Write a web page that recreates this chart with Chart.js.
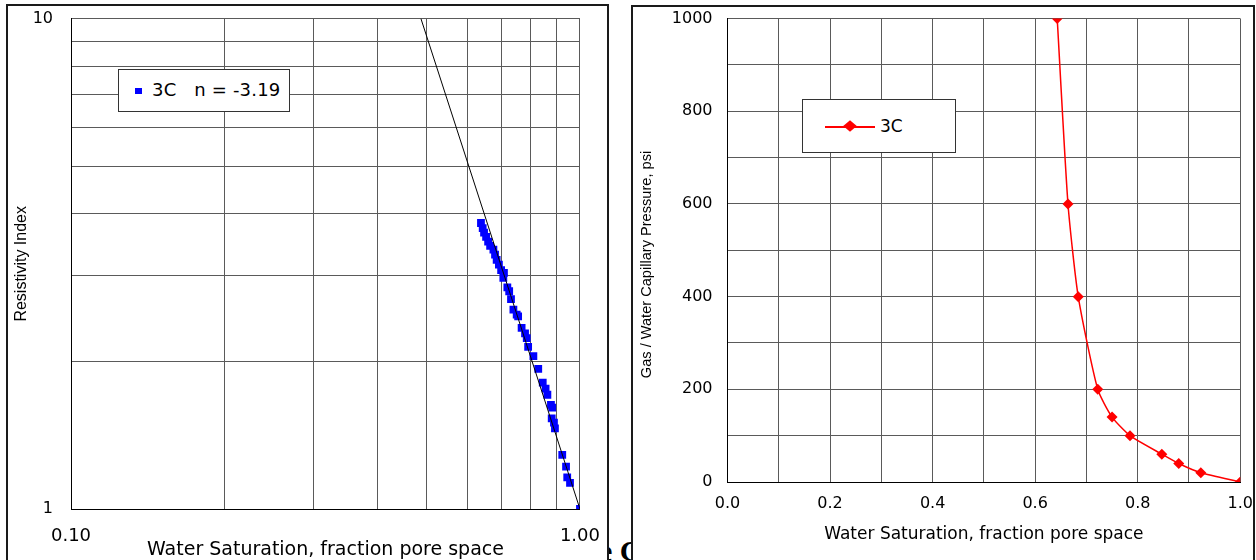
<!DOCTYPE html>
<html>
  <head>
    <title>Resistivity Index and Capillary Pressure, 3C</title>
    <script src="https://cdn.jsdelivr.net/npm/chart.js@4.4.1/dist/chart.umd.min.js"></script>
    <style>
      html { overflow: hidden; }
      body { margin: 0; width: 1256px; height: 560px; overflow: hidden; background: #fff; position: relative; }
      .box { position: absolute; box-sizing: border-box; border: 2px solid #1a1a1a; background: #fff; z-index: 1; }
      .behind { position: absolute; left: 599px; top: 536px; font: bold 30px 'Liberation Serif', serif; line-height: 30px; z-index: 0; white-space: pre; }
      canvas { position: absolute; z-index: 2; }
      .legend { position: absolute; box-sizing: border-box; border: 1px solid #333; background: #fff; z-index: 3; }
      .legend span { position: absolute; font: 17px 'DejaVu Sans', sans-serif; white-space: pre; line-height: 20px; }
    </style>
  </head>

  <body>
    <div class="behind">e C</div>
    <div class="box" style="left:6px;top:4px;width:603px;height:600px"></div>
    <div class="box" style="left:631px;top:5px;width:624px;height:600px"></div>
    <!-- canvases reach past the boxes so that chart.js's label padding lands the plot where the original has it -->
    <canvas id="ri" width="608" height="569" style="left:9px;top:-9px"></canvas>
    <canvas id="pc" width="631" height="566" style="left:634px;top:-6px"></canvas>

    <div class="legend" style="left:118px;top:69px;width:172px;height:43px">
      <div style="position:absolute;left:16px;top:18px;width:7px;height:6px;background:#0000ff"></div>
      <span style="left:33px;top:10px;font-size:18px;letter-spacing:0.2px">3C   n = -3.19</span>
    </div>
    <div class="legend" style="left:802px;top:99px;width:154px;height:54px">
      <div style="position:absolute;left:22px;top:26px;width:50px;height:1.5px;background:#ff0000"></div>
      <div style="position:absolute;left:43px;top:22px;width:8px;height:8px;background:#ff0000;transform:scaleX(1.2) rotate(45deg)"></div>
      <span style="left:77px;top:16px">3C</span>
    </div>

    <script>
      // left: resistivity index vs water saturation (log-log)
      const riSw = [0.639, 0.644, 0.648, 0.654, 0.660, 0.666, 0.676, 0.681, 0.686, 0.693,
                    0.700, 0.709, 0.707, 0.720, 0.726, 0.732, 0.740, 0.751, 0.756, 0.768,
                    0.780, 0.786, 0.791, 0.810, 0.828, 0.845, 0.856, 0.863, 0.877, 0.882,
                    0.880, 0.889, 0.893, 0.923, 0.939, 0.944, 0.956, 1.000];
      const riVal = [3.83, 3.74, 3.66, 3.59, 3.51, 3.44, 3.38, 3.30, 3.22, 3.15,
                     3.07, 3.03, 2.96, 2.83, 2.78, 2.68, 2.55, 2.49, 2.47, 2.34,
                     2.28, 2.23, 2.14, 2.05, 1.93, 1.81, 1.76, 1.71, 1.63, 1.61,
                     1.53, 1.50, 1.46, 1.29, 1.22, 1.16, 1.13, 1.00];
      // fitted line, n = -3.19
      const fitSw = [0.487, 1.0];
      const fitRi = [10, 1];
      const riXTicks = [0.1, 0.2, 0.3, 0.4, 0.5, 0.6, 0.7, 0.8, 0.9, 1.0];
      const riYTicks = [1, 2, 3, 4, 5, 6, 7, 8, 9, 10];

      // right: capillary pressure curve
      const pcSw = [0.643, 0.664, 0.684, 0.722, 0.750, 0.785, 0.847, 0.880, 0.923, 1.000];
      const pcVal = [1000, 600, 400, 200, 140, 100, 60, 40, 20, 0];

      const gridColor = '#5a5a5a';
      const tickFont = { family: 'DejaVu Sans', size: 16 };
      const sans = "'Liberation Sans', Arial, sans-serif";

      const pts = (xs, ys) => xs.map((x, i) => ({ x: x, y: ys[i] }));

      new Chart(document.getElementById('ri'), {
        type: 'scatter',
        data: {
          datasets: [
            {
              data: pts(fitSw, fitRi),
              showLine: true,
              borderColor: '#000',
              borderWidth: 1,
              pointRadius: 0,
            },
            {
              label: '3C',
              data: pts(riSw, riVal),
              pointStyle: 'rect',
              pointRadius: 5.5,
              backgroundColor: '#0000ff',
              borderColor: '#0000ff',
              borderWidth: 0,
            },
          ],
        },
        options: {
          responsive: false,
          devicePixelRatio: 1,
          animation: false,
          layout: { autoPadding: false, padding: 0 },
          plugins: { legend: { display: false }, tooltip: { enabled: false } },
          scales: {
            x: {
              type: 'logarithmic',
              min: 0.1,
              max: 1,
              afterBuildTicks: (s) => { s.ticks = riXTicks.map((v) => ({ value: v })); },
              afterFit: (s) => { s.height = 51; },
              ticks: {
                autoSkip: false,
                maxRotation: 0,
                padding: 17,
                color: '#000',
                font: { family: 'DejaVu Sans', size: 18 },
                callback: (v) => (v === 0.1 ? '0.10' : v === 1 ? '1.00' : ''),
              },
              grid: { color: gridColor, drawTicks: false },
              border: { color: '#000' },
              title: {
                display: true,
                text: 'Water Saturation, fraction pore space',
                color: '#000',
                font: { family: 'DejaVu Sans', size: 19, lineHeight: 1 },
                padding: { top: 0, bottom: 0 },
              },
            },
            y: {
              type: 'logarithmic',
              min: 1,
              max: 10,
              afterBuildTicks: (s) => { s.ticks = riYTicks.map((v) => ({ value: v })); },
              afterFit: (s) => { s.width = 62; },
              ticks: {
                autoSkip: false,
                padding: 18,
                color: '#000',
                font: tickFont,
                callback: (v) => (v === 1 || v === 10 ? String(v) : ''),
              },
              grid: { color: gridColor, drawTicks: false },
              border: { color: '#000' },
              title: {
                display: true,
                text: 'Resistivity Index',
                color: '#000',
                font: { family: sans, size: 16 },
                padding: { top: 3, bottom: 0 },
              },
            },
          },
        },
      });

      new Chart(document.getElementById('pc'), {
        type: 'scatter',
        data: {
          datasets: [
            {
              label: '3C',
              data: pts(pcSw, pcVal),
              showLine: true,
              tension: 0.2,
              borderColor: '#ff0000',
              borderWidth: 1.5,
              pointStyle: 'rectRot',
              pointRadius: 5.5,
              backgroundColor: '#ff0000',
              pointBorderWidth: 0,
            },
          ],
        },
        options: {
          responsive: false,
          devicePixelRatio: 1,
          animation: false,
          layout: { autoPadding: false, padding: 0 },
          plugins: { legend: { display: false }, tooltip: { enabled: false } },
          scales: {
            x: {
              type: 'linear',
              min: 0,
              max: 1,
              afterFit: (s) => { s.height = 78; },
              ticks: {
                stepSize: 0.1,
                autoSkip: false,
                maxRotation: 0,
                padding: 12,
                color: '#000',
                font: tickFont,
                callback: (v) => (Math.round(v * 10) % 2 === 0 ? v.toFixed(1) : ''),
              },
              grid: { color: gridColor, drawTicks: false },
              border: { color: '#000' },
              title: {
                display: true,
                text: 'Water Saturation, fraction pore space',
                color: '#000',
                font: { family: 'DejaVu Sans', size: 17 },
                padding: { top: 0, bottom: 15 },
              },
            },
            y: {
              type: 'linear',
              min: 0,
              max: 1000,
              afterFit: (s) => { s.width = 93.5; },
              ticks: {
                stepSize: 100,
                autoSkip: false,
                padding: 15,
                color: '#000',
                font: tickFont,
                callback: (v) => (v % 200 === 0 ? String(v) : ''),
              },
              grid: { color: gridColor, drawTicks: false },
              border: { color: '#000' },
              title: {
                display: true,
                text: 'Gas / Water Capillary Pressure, psi       ',
                color: '#000',
                font: { family: sans, size: 14.6 },
                padding: { top: 4, bottom: 0 },
              },
            },
          },
        },
      });
    </script>
  </body>
</html>
